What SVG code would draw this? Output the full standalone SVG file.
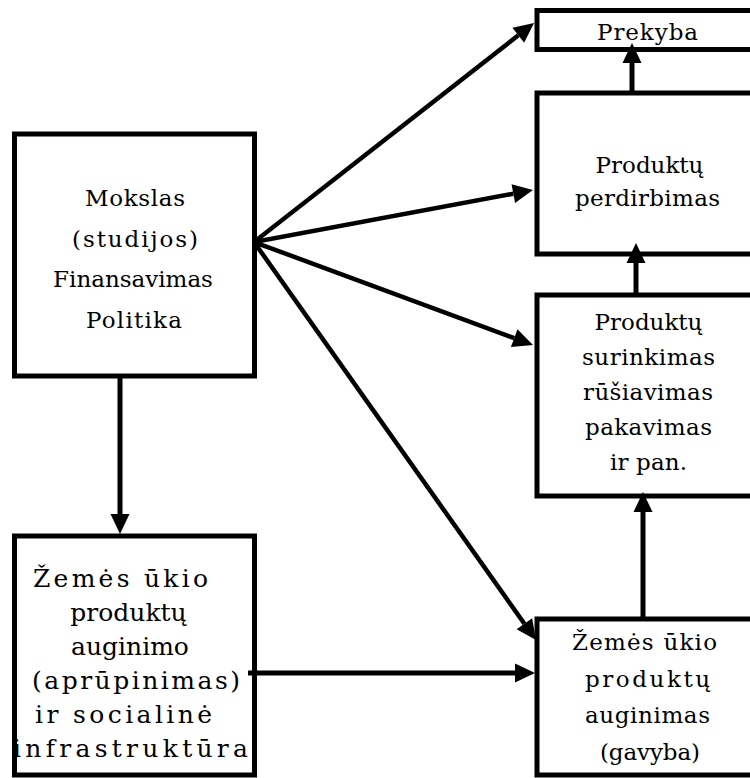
<svg xmlns="http://www.w3.org/2000/svg" width="750" height="778" viewBox="0 0 750 778">
<style>
.box{fill:#fff;stroke:#000;stroke-width:5}
.c{stroke:#000;stroke-width:5;fill:none}
.d{stroke:#000;stroke-width:4.5;fill:none}
text{font-family:"DejaVu Serif",serif;font-size:23px;fill:#000}
.m{text-anchor:middle}
.big text{font-size:25px}
</style>
<defs>
<marker id="ah" markerUnits="userSpaceOnUse" markerWidth="22" markerHeight="20" refX="0" refY="10" orient="auto" overflow="visible">
<path d="M0,0.5 L20,10 L0,19.5 z" fill="#000"/>
</marker>
</defs>
<rect width="750" height="778" fill="#fff"/>
<g id="mokslas">
<rect class="box" x="14.5" y="134" width="240" height="242"/>
<text x="85" y="206" textLength="100" lengthAdjust="spacing">Mokslas</text>
<text x="72" y="247" textLength="126" lengthAdjust="spacing">(studijos)</text>
<text class="m" x="133" y="287">Finansavimas</text>
<text x="86" y="328" textLength="96" lengthAdjust="spacing">Politika</text>
</g>
<g id="prekyba">
<rect class="box" x="537" y="10.5" width="230" height="39"/>
<text x="597" y="40" textLength="101" lengthAdjust="spacing">Prekyba</text>
</g>
<g id="perdirbimas">
<rect class="box" x="537" y="93" width="230" height="161"/>
<text class="m" x="649.5" y="173">Produktų</text>
<text x="575" y="206" textLength="145" lengthAdjust="spacing">perdirbimas</text>
</g>
<g id="surinkimas">
<rect class="box" x="537" y="295" width="230" height="201"/>
<text class="m" x="648.5" y="330">Produktų</text>
<text x="582" y="365" textLength="133" lengthAdjust="spacing">surinkimas</text>
<text x="583" y="400" textLength="130" lengthAdjust="spacing">rūšiavimas</text>
<text x="585" y="435" textLength="127" lengthAdjust="spacing">pakavimas</text>
<text x="610" y="470" textLength="77" lengthAdjust="spacing">ir pan.</text>
</g>
<g id="aprupinimas" class="big">
<rect class="box" x="14.5" y="536" width="240" height="239"/>
<text x="33" y="587" textLength="175" lengthAdjust="spacing">Žemės ūkio</text>
<text class="m" x="128.5" y="621">produktų</text>
<text class="m" x="130" y="655">auginimo</text>
<text x="32" y="689" textLength="208" lengthAdjust="spacing">(aprūpinimas)</text>
<text x="35" y="723" textLength="177" lengthAdjust="spacing">ir socialinė</text>
<text x="13" y="757" textLength="235" lengthAdjust="spacing">infrastruktūra</text>
</g>
<g id="gavyba">
<rect class="box" x="537" y="619" width="230" height="156"/>
<text x="572" y="650" textLength="145" lengthAdjust="spacing">Žemės ūkio</text>
<text x="585" y="687" textLength="125" lengthAdjust="spacing">produktų</text>
<text x="585" y="723" textLength="125" lengthAdjust="spacing">auginimas</text>
<text x="600" y="760" textLength="100" lengthAdjust="spacing">(gavyba)</text>
</g>
<g id="connectors">
<line class="d" x1="254" y1="242" x2="518.3" y2="35.3" stroke-width="5.5" marker-end="url(#ah)"/>
<line class="d" x1="254" y1="242" x2="513.3" y2="193.7" marker-end="url(#ah)"/>
<line class="d" x1="254" y1="242" x2="514.2" y2="338.1" marker-end="url(#ah)"/>
<line class="d" x1="254" y1="242" x2="524.4" y2="623.7" marker-end="url(#ah)"/>
<line class="c" x1="120" y1="376" x2="120" y2="514" marker-end="url(#ah)"/>
<line class="c" x1="248" y1="673" x2="515" y2="673" marker-end="url(#ah)"/>
<line class="c" x1="643" y1="619" x2="643" y2="512" marker-end="url(#ah)"/>
<line class="c" x1="636" y1="295" x2="636" y2="263" marker-end="url(#ah)"/>
<line class="c" x1="632" y1="93" x2="632" y2="63" marker-end="url(#ah)"/>
</g>
</svg>
